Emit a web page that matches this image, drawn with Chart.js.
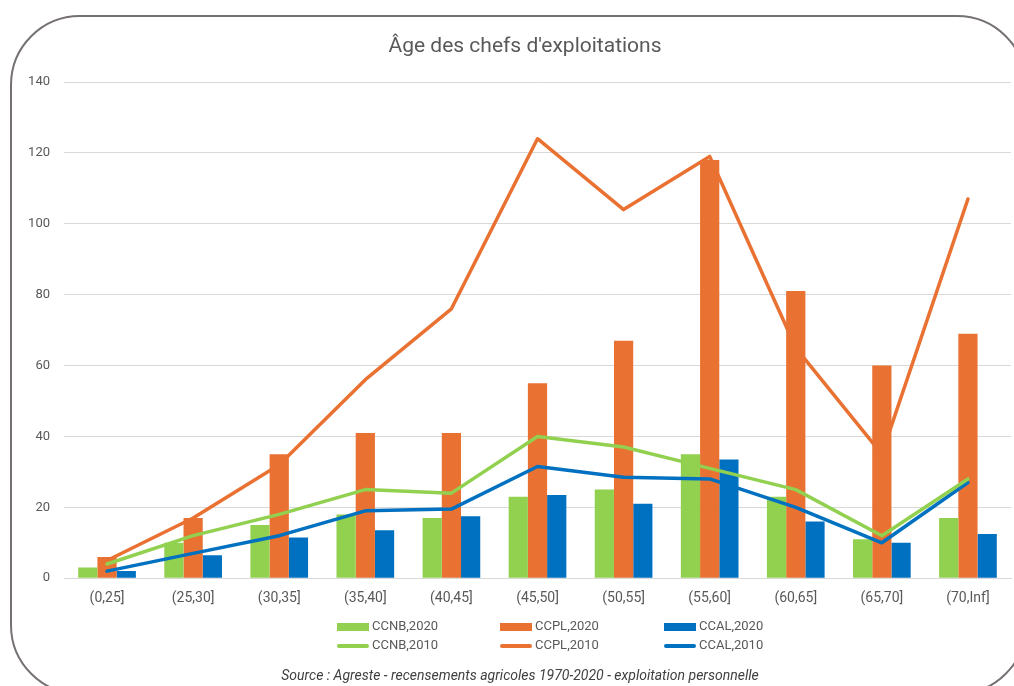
<!DOCTYPE html>
<html>
<head>
<meta charset="utf-8">
<script src="https://cdn.jsdelivr.net/npm/chart.js@4.4.1/dist/chart.umd.min.js"></script>
<style>
  html, body { margin: 0; padding: 0; background: #fff; overflow: hidden; }
  #cadre { position: absolute; left: 10px; top: 15px; width: 1013px; height: 676px;
           border: 2px solid #767171; border-radius: 70px; }
  #zone { position: absolute; left: 0; top: 0; width: 1014px; height: 686px; }
</style>
</head>
<body>
<div id="cadre"></div>
<div id="zone"><canvas id="ageChart"></canvas></div>
<script>
  // Tranches d'âge
  const tranches = ['(0,25]', '(25,30]', '(30,35]', '(35,40]', '(40,45]', '(45,50]',
                    '(50,55]', '(55,60]', '(60,65]', '(65,70]', '(70,Inf]'];

  // Nombre de chefs d'exploitation, 2020 (barres)
  const ccnb2020 = [3, 10, 15, 18, 17, 23, 25, 35, 23, 11, 17];
  const ccpl2020 = [6, 17, 35, 41, 41, 55, 67, 118, 81, 60, 69];
  const ccal2020 = [2, 6.5, 11.5, 13.5, 17.5, 23.5, 21, 33.5, 16, 10, 12.5];

  // Nombre de chefs d'exploitation, 2010 (courbes)
  const ccnb2010 = [4, 12, 18, 25, 24, 40, 37, 31, 25, 12, 28];
  const ccpl2010 = [5, 17, 32, 56, 76, 124, 104, 119, 65, 35, 107];
  const ccal2010 = [2, 7, 12, 19, 19.5, 31.5, 28.5, 28, 20, 10, 27];

  // Graduations de l'axe vertical
  const graduations = [0, 20, 40, 60, 80, 100, 120, 140];

  const titre = "Âge des chefs d'exploitations";
  const source = 'Source : Agreste - recensements agricoles 1970-2020 - exploitation personnelle';

  const vert = '#92D050';
  const orange = '#E97132';
  const bleu = '#0070C0';

  // Titre, légende sur deux lignes et source
  const textesPlugin = {
    id: 'textes',
    afterDraw(chart) {
      const ctx = chart.ctx;
      ctx.save();
      ctx.textBaseline = 'middle';

      ctx.fillStyle = '#595959';
      ctx.font = '21px Roboto';
      ctx.textAlign = 'center';
      ctx.fillText(titre, 525, 47);

      const colonnes = [337, 500, 664];
      const lignes = [627, 646];
      ctx.font = '13px Roboto';
      ctx.textAlign = 'left';
      chart.data.datasets.forEach((ds, i) => {
        const x = colonnes[i % 3];
        const y = lignes[Math.floor(i / 3)];
        if (ds.type === 'line') {
          ctx.strokeStyle = ds.borderColor;
          ctx.lineWidth = 4;
          ctx.lineCap = 'round';
          ctx.beginPath();
          ctx.moveTo(x + 2, y);
          ctx.lineTo(x + 30, y);
          ctx.stroke();
        } else {
          ctx.fillStyle = ds.backgroundColor;
          ctx.fillRect(x, y - 4, 32, 8);
        }
        ctx.fillStyle = '#595959';
        ctx.fillText(ds.label, x + 35, y);
      });

      ctx.fillStyle = '#404040';
      ctx.font = 'italic 14px Roboto';
      ctx.textAlign = 'center';
      ctx.fillText(source, 520, 676);
      ctx.restore();
    }
  };

  const ligne = (label, data, couleur) => ({
    type: 'line', label, data,
    borderColor: couleur, backgroundColor: couleur,
    borderWidth: 3.5, pointRadius: 0, tension: 0,
    borderCapStyle: 'round', borderJoinStyle: 'round',
    order: 0
  });

  const barre = (label, data, couleur) => ({
    type: 'bar', label, data,
    backgroundColor: couleur, borderWidth: 0,
    order: 1
  });

  new Chart(document.getElementById('ageChart').getContext('2d'), {
    data: {
      labels: tranches,
      datasets: [
        barre('CCNB,2020', ccnb2020, vert),
        barre('CCPL,2020', ccpl2020, orange),
        barre('CCAL,2020', ccal2020, bleu),
        ligne('CCNB,2010', ccnb2010, vert),
        ligne('CCPL,2010', ccpl2010, orange),
        ligne('CCAL,2010', ccal2010, bleu)
      ]
    },
    options: {
      responsive: true,
      maintainAspectRatio: false,
      animation: false,
      layout: { padding: { top: 82, bottom: 67, left: 0, right: 3 } },
      datasets: { bar: { categoryPercentage: 0.67, barPercentage: 1 } },
      plugins: {
        legend: { display: false },
        title: { display: false },
        tooltip: { enabled: false }
      },
      scales: {
        x: {
          grid: { display: false, drawTicks: false },
          border: { display: true, color: '#D9D9D9' },
          ticks: { color: '#595959', font: { family: 'Roboto', size: 14 }, padding: 12,
                   maxRotation: 0, autoSkip: false }
        },
        y: {
          min: 0, max: 140,
          afterFit(scale) { scale.width = 64; },
          afterBuildTicks(scale) { scale.ticks = graduations.map(v => ({ value: v })); },
          grid: { color: '#D9D9D9', drawTicks: false },
          border: { display: false },
          ticks: { color: '#595959', font: { family: 'Roboto', size: 13 }, padding: 14 }
        }
      }
    },
    plugins: [textesPlugin]
  });
</script>
</body>
</html>
